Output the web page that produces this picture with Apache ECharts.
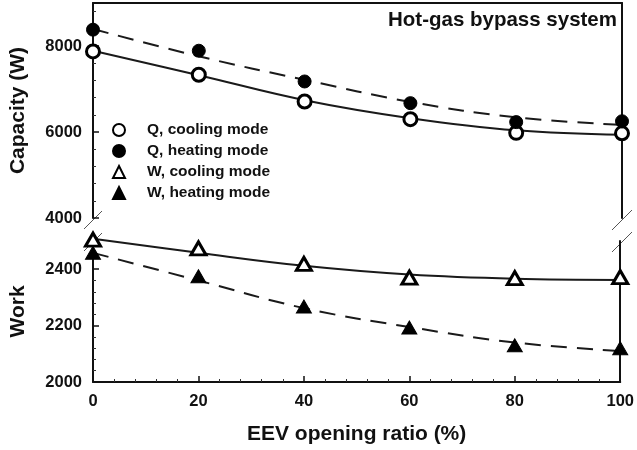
<!DOCTYPE html>
<html>
<head>
<meta charset="utf-8">
<script src="https://cdn.jsdelivr.net/npm/echarts@6/dist/echarts.min.js"></script>
<style>
  html, body { margin: 0; padding: 0; background: #fff; }
  #chart { width: 637px; height: 450px; }
</style>
</head>
<body>
<div id="chart"></div>
<script>
// EEV opening ratio (%)
var ratio = [0, 20, 40, 60, 80, 100];

// measured points
var qCooling = [7874, 7331, 6709, 6298, 5980, 5970];
var qHeating = [8380, 7890, 7175, 6671, 6230, 6250];
var wCooling = [2505, 2474, 2419, 2370, 2368, 2372];
var wHeating = [2458, 2375, 2268, 2193, 2130, 2120];

// trend curves
var qCoolingFit = [7890, 7320, 6740, 6322, 6040, 5935];
var qHeatingFit = [8396, 7760, 7214, 6700, 6340, 6166];
var wCoolingFit = [2508, 2458, 2412, 2381, 2366, 2362];
var wHeatingFit = [2458, 2360, 2262, 2195, 2140, 2110];

var legendNames = ["Q, cooling mode", "Q, heating mode", "W, cooling mode", "W, heating mode"];

var FONT = "'Liberation Sans', Arial, sans-serif";
var INK = "#111";

function pairs(ys) {
  return ratio.map(function (x, i) {
    return [x, ys[i]];
  });
}

var chart = echarts.init(document.getElementById("chart"));

var labelStyle = {
  color: INK, fontSize: 16.5, fontWeight: "bold", fontFamily: FONT,
  formatter: function (v) { return String(v); }
};
var nameStyle = { color: INK, fontSize: 21, fontWeight: "bold", fontFamily: FONT };
var axisLine = { show: true, lineStyle: { color: INK, width: 2 } };
var tick = { show: true, inside: true, length: 6, lineStyle: { color: INK, width: 1.5 } };
var minor = { show: true, splitNumber: 5, length: 3, lineStyle: { color: "#333", width: 1 } };

function markStyle(hollow) {
  return {
    color: hollow ? "#fff" : "#000",
    borderColor: "#000",
    borderWidth: hollow ? 3 : 1,
    opacity: 1
  };
}

function fitSeries(name, data, dashed, axis) {
  return {
    name: name,
    type: "line",
    xAxisIndex: axis,
    yAxisIndex: axis,
    data: pairs(data),
    smooth: 0.4,
    showSymbol: false,
    silent: true,
    clip: false,
    lineStyle: { color: "#1a1a1a", width: 2, type: dashed ? [16, 10] : "solid" },
    z: 2
  };
}

function pointSeries(name, data, symbol, size, hollow, axis) {
  return {
    name: name,
    type: "scatter",
    xAxisIndex: axis,
    yAxisIndex: axis,
    data: pairs(data),
    symbol: symbol,
    symbolSize: size,
    clip: false,
    itemStyle: markStyle(hollow),
    z: 5
  };
}

var option = {
  backgroundColor: "#fff",
  animation: false,
  title: {
    text: "Hot-gas bypass system",
    right: 20,
    top: 10,
    padding: 0,
    textStyle: { color: INK, fontSize: 20.5, fontWeight: "bold", fontFamily: FONT }
  },
  legend: {
    data: legendNames,
    orient: "vertical",
    left: 112,
    top: 122,
    itemWidth: 12,
    itemHeight: 12,
    itemGap: 5,
    padding: 0,
    textStyle: {
      color: INK, fontSize: 15.5, fontWeight: "bold", fontFamily: FONT,
      lineHeight: 16, padding: [0, 0, 0, 17]
    }
  },
  grid: [
    { left: 93, right: 15, top: 3, height: 215 },
    { left: 93, right: 15, top: 241, height: 141 }
  ],
  xAxis: [
    {
      gridIndex: 0, type: "value", min: 0, max: 100, interval: 20, position: "top",
      axisLine: axisLine, axisTick: { show: false }, axisLabel: { show: false },
      splitLine: { show: false }
    },
    {
      gridIndex: 1, type: "value", min: 0, max: 100, interval: 20,
      axisLine: axisLine, axisTick: tick, minorTick: minor,
      axisLabel: Object.assign({ margin: 11 }, labelStyle),
      splitLine: { show: false },
      name: "EEV opening ratio (%)", nameLocation: "middle", nameGap: 42,
      nameTextStyle: nameStyle
    }
  ],
  yAxis: [
    {
      gridIndex: 0, type: "value", min: 4000, max: 9000, interval: 2000,
      axisLine: axisLine, axisTick: tick, minorTick: minor,
      axisLabel: Object.assign({ margin: 11, showMaxLabel: false }, labelStyle),
      splitLine: { show: false },
      name: "Capacity (W)", nameLocation: "middle", nameGap: 64,
      nameTextStyle: nameStyle
    },
    {
      gridIndex: 1, type: "value", min: 2000, max: 2500, interval: 200,
      axisLine: axisLine, axisTick: tick, minorTick: minor,
      axisLabel: Object.assign({ margin: 11, showMaxLabel: false }, labelStyle),
      splitLine: { show: false },
      name: "Work", nameLocation: "middle", nameGap: 64,
      nameTextStyle: nameStyle
    },
    {
      gridIndex: 0, type: "value", min: 4000, max: 9000, position: "right",
      axisLine: axisLine, axisTick: { show: false }, axisLabel: { show: false },
      splitLine: { show: false }
    },
    {
      gridIndex: 1, type: "value", min: 2000, max: 2500, position: "right",
      axisLine: axisLine, axisTick: { show: false }, axisLabel: { show: false },
      splitLine: { show: false }
    }
  ],
  // axis break marks
  graphic: [
    { type: "line", shape: { x1: 84, y1: 229, x2: 102, y2: 211 }, style: { stroke: "#555", lineWidth: 1 } },
    { type: "line", shape: { x1: 84, y1: 251, x2: 102, y2: 233 }, style: { stroke: "#555", lineWidth: 1 } },
    { type: "line", shape: { x1: 612, y1: 230, x2: 632, y2: 210 }, style: { stroke: "#555", lineWidth: 1 } },
    { type: "line", shape: { x1: 612, y1: 252, x2: 632, y2: 232 }, style: { stroke: "#555", lineWidth: 1 } }
  ],
  series: [
    fitSeries("Q cooling fit", qCoolingFit, false, 0),
    fitSeries("Q heating fit", qHeatingFit, true, 0),
    fitSeries("W cooling fit", wCoolingFit, false, 1),
    fitSeries("W heating fit", wHeatingFit, true, 1),
    pointSeries(legendNames[0], qCooling, "circle", 13, true, 0),
    pointSeries(legendNames[1], qHeating, "circle", 13, false, 0),
    pointSeries(legendNames[2], wCooling, "triangle", [15, 13], true, 1),
    pointSeries(legendNames[3], wHeating, "triangle", [15, 13], false, 1)
  ]
};

chart.setOption(option);
</script>
</body>
</html>
